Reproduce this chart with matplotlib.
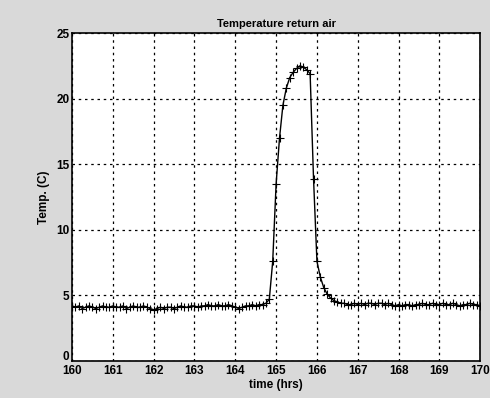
import numpy as np
import matplotlib
matplotlib.use("Agg")
import matplotlib.pyplot as plt
import matplotlib.transforms as mtransforms

# time in hours (5-minute samples)
time_hrs = 160 + np.arange(121) / 12.0

temp_c = [
    4.2, 4.1, 4.2, 4.0, 4.1, 4.2, 4.1, 4.0, 4.1, 4.2, 4.1, 4.1,
    4.2, 4.1, 4.1, 4.2, 4.0, 4.1, 4.2, 4.1, 4.1, 4.2, 4.1, 4.0,
    3.9, 4.0, 4.1, 4.0, 4.1, 4.1, 4.0, 4.1, 4.2, 4.1, 4.1, 4.2,
    4.2, 4.1, 4.2, 4.2, 4.3, 4.2, 4.2, 4.3, 4.2, 4.2, 4.3, 4.2,
    4.1, 4.0, 4.1, 4.2, 4.2, 4.3, 4.2, 4.3, 4.3, 4.4,
    4.7, 7.6, 13.5, 17.0, 19.5, 20.8, 21.6, 22.0, 22.3, 22.5, 22.4, 22.2,
    21.9, 13.9, 7.6, 6.4, 5.6, 5.1, 4.8, 4.6, 4.5, 4.4,
    4.4, 4.3, 4.3, 4.4, 4.3, 4.4, 4.3, 4.4, 4.4, 4.3, 4.4, 4.4,
    4.3, 4.4, 4.3, 4.2, 4.3, 4.2, 4.3, 4.3, 4.2, 4.3, 4.3, 4.4,
    4.3, 4.3, 4.4, 4.3, 4.3, 4.4, 4.3, 4.3, 4.4, 4.3, 4.2, 4.3,
    4.3, 4.4, 4.3, 4.3, 4.2,
]

xticks = list(range(160, 171))
yticks = [0, 5, 10, 15, 20, 25]

plt.rcParams['font.family'] = ['Liberation Sans', 'DejaVu Sans']

fig = plt.figure(figsize=(4.9, 3.98), dpi=100, facecolor='#d9d9d9')
ax = fig.add_axes([0.147, 0.093, 0.833, 0.824])
ax.set_facecolor('white')

ax.plot(time_hrs, temp_c, color='black', linewidth=1.0, marker='+',
        markersize=6, markeredgewidth=0.8)

ax.set_xlim(160, 170)
ax.set_ylim(0, 25)
ax.set_xticks(xticks)
ax.set_yticks(yticks)
ax.grid(True, color='black', linestyle=(0, (2, 3)), linewidth=0.9)
ax.tick_params(direction='in', length=0, labelsize=8.5, pad=2)
ax.tick_params(axis='x', pad=3)
for lbl in ax.get_xticklabels() + ax.get_yticklabels():
    lbl.set_fontweight('bold')
for s in ax.spines.values():
    s.set_linewidth(1.2)
    s.set_color('black')

# lift the "0" y tick label slightly so it clears the "160" x tick label
zero_tick = ax.yaxis.get_major_ticks()[0]
offset = mtransforms.ScaledTranslation(0, 4 / 72, fig.dpi_scale_trans)
zero_tick.label1.set_transform(zero_tick.label1.get_transform() + offset)

ax.set_title('Temperature return air', fontsize=8, fontweight='bold', pad=4)
ax.set_xlabel('time (hrs)', fontsize=8.5, fontweight='bold', labelpad=1)
ax.set_ylabel('Temp. (C)', fontsize=8.5, fontweight='bold', labelpad=4)

fig.savefig('out.png', dpi=100, facecolor=fig.get_facecolor())
